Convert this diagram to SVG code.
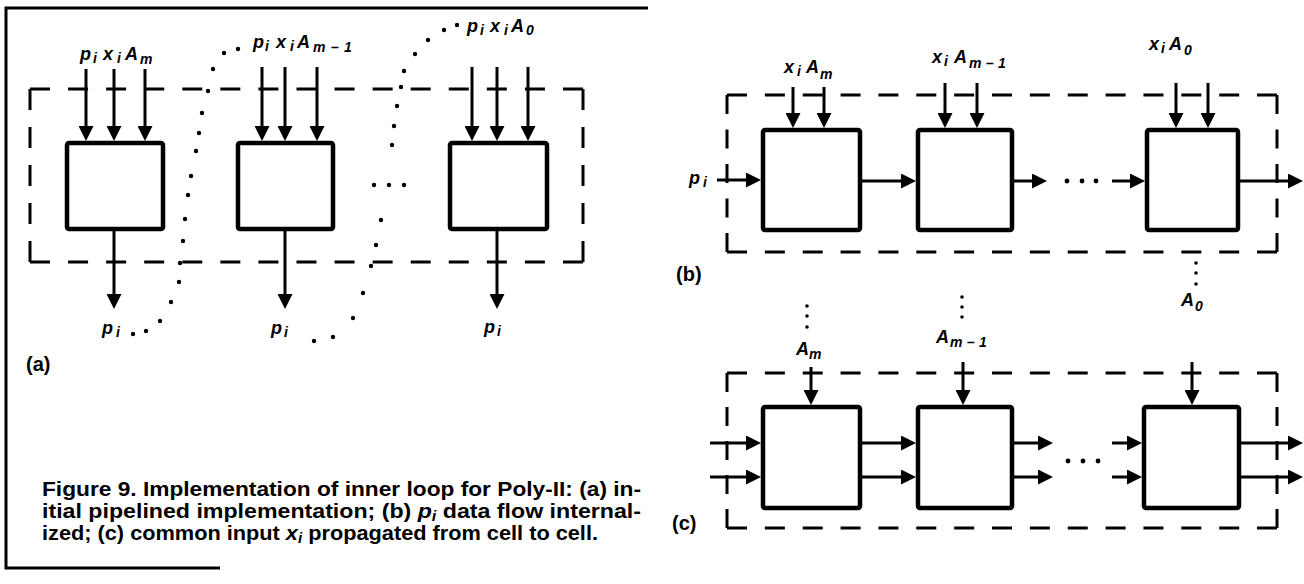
<svg xmlns="http://www.w3.org/2000/svg" width="1304" height="584" viewBox="0 0 1304 584">
<defs>
<marker id="ah" viewBox="0 0 15 15" markerWidth="15" markerHeight="15" refX="7" refY="7.5" orient="auto" markerUnits="userSpaceOnUse"><path d="M0,0 L15,7.5 L0,15 z" fill="#000"/></marker>
<style>
.frame{stroke:#000;stroke-width:3;fill:none}
.dash{stroke:#000;stroke-width:3;fill:none}
.box{fill:#fff;stroke:#000;stroke-width:4.5}
.arr{stroke:#000;stroke-width:3;fill:none;marker-end:url(#ah)}
.dot{fill:#000}
.lbl{font-family:"Liberation Sans",Arial,sans-serif;font-weight:bold;font-style:italic;font-size:18px;fill:#000}
.sub{font-size:14px}
.tag{font-family:"Liberation Sans",Arial,sans-serif;font-weight:bold;font-size:20px;fill:#000}
.cap{font-family:"Liberation Sans",Arial,sans-serif;font-weight:bold;font-size:20px;fill:#000}
</style>
</defs>
<rect width="1304" height="584" fill="#fff"/>
<path class="frame" d="M648,8 L6,8 L6,568 L220,568"/>

<!-- Panel (a) -->
<g id="a-boundary">
<line class="dash" x1="30" y1="89" x2="583" y2="89" stroke-dasharray="20 18.07"/>
<line class="dash" x1="30" y1="262" x2="583" y2="262" stroke-dasharray="20 18.07"/>
<line class="dash" x1="30" y1="89" x2="30" y2="262" stroke-dasharray="21 17"/>
<line class="dash" x1="583" y1="89" x2="583" y2="262" stroke-dasharray="21 17"/>
</g>
<g id="a-cell1"><rect class="box" x="67" y="143" width="96" height="86" rx="2"/></g>
<g id="a-cell2"><rect class="box" x="238" y="143" width="95" height="86" rx="2"/></g>
<g id="a-cell3"><rect class="box" x="450" y="143" width="97" height="86" rx="2"/></g>
<g id="a-connectors">
<line class="arr" x1="86" y1="69" x2="86" y2="133"/>
<line class="arr" x1="114" y1="69" x2="114" y2="133"/>
<line class="arr" x1="145" y1="69" x2="145" y2="133"/>
<line class="arr" x1="262" y1="67" x2="262" y2="133"/>
<line class="arr" x1="285" y1="67" x2="285" y2="133"/>
<line class="arr" x1="317" y1="67" x2="317" y2="133"/>
<line class="arr" x1="472" y1="67" x2="472" y2="133"/>
<line class="arr" x1="497" y1="67" x2="497" y2="133"/>
<line class="arr" x1="528" y1="67" x2="528" y2="133"/>
<line class="arr" x1="114" y1="229" x2="114" y2="301"/>
<line class="arr" x1="285" y1="229" x2="285" y2="301"/>
<line class="arr" x1="497" y1="229" x2="497" y2="301"/>
</g>
<g id="a-dots" class="dot">
<circle cx="133" cy="334" r="2.2"/><circle cx="146" cy="331" r="2.2"/><circle cx="160" cy="321" r="2.2"/><circle cx="171" cy="302" r="2.2"/><circle cx="179" cy="282" r="2.2"/><circle cx="180" cy="263" r="2.2"/><circle cx="183" cy="241" r="2.2"/><circle cx="185" cy="219" r="2.2"/><circle cx="188" cy="195" r="2.2"/><circle cx="191" cy="176" r="2.2"/><circle cx="196" cy="151" r="2.2"/><circle cx="199" cy="133" r="2.2"/><circle cx="202" cy="113" r="2.2"/><circle cx="208" cy="91" r="2.2"/><circle cx="213" cy="69" r="2.2"/><circle cx="224" cy="53" r="2.2"/><circle cx="238" cy="49" r="2.2"/>
<circle cx="314" cy="341" r="2.2"/><circle cx="333" cy="337" r="2.2"/><circle cx="353" cy="318" r="2.2"/><circle cx="363" cy="293" r="2.2"/><circle cx="371" cy="266" r="2.2"/><circle cx="376" cy="245" r="2.2"/><circle cx="381" cy="220" r="2.2"/><circle cx="389" cy="185" r="2.2"/><circle cx="392" cy="145" r="2.2"/><circle cx="394" cy="126" r="2.2"/><circle cx="397" cy="106" r="2.2"/><circle cx="401" cy="87" r="2.2"/><circle cx="404" cy="71" r="2.2"/><circle cx="415" cy="54" r="2.2"/><circle cx="428" cy="40" r="2.2"/><circle cx="444" cy="30" r="2.2"/><circle cx="457" cy="25" r="2.2"/>
<circle cx="374" cy="185" r="2.2"/><circle cx="404" cy="185" r="2.2"/>
</g>
<g id="a-labels">
<text class="lbl" y="60"><tspan x="80">p</tspan><tspan class="sub" x="93" y="63">i</tspan><tspan x="103" y="60">x</tspan><tspan class="sub" x="117" y="63">i</tspan><tspan x="125" y="60">A</tspan><tspan class="sub" x="140" y="64">m</tspan></text>
<text class="lbl" y="48"><tspan x="253">p</tspan><tspan class="sub" x="265" y="51">i</tspan><tspan x="276" y="48">x</tspan><tspan class="sub" x="290" y="51">i</tspan><tspan x="297" y="48">A</tspan><tspan class="sub" x="313" y="52">m</tspan><tspan class="sub" x="331" y="52">–</tspan><tspan class="sub" x="344" y="52">1</tspan></text>
<text class="lbl" y="32"><tspan x="467">p</tspan><tspan class="sub" x="480" y="35">i</tspan><tspan x="490" y="32">x</tspan><tspan class="sub" x="504" y="35">i</tspan><tspan x="511" y="32">A</tspan><tspan class="sub" x="526" y="35">0</tspan></text>
<text class="lbl" y="334"><tspan x="102">p</tspan><tspan class="sub" x="116" y="337">i</tspan></text>
<text class="lbl" y="334"><tspan x="271">p</tspan><tspan class="sub" x="284" y="337">i</tspan></text>
<text class="lbl" y="333"><tspan x="484">p</tspan><tspan class="sub" x="497" y="336">i</tspan></text>
<text class="tag" x="26" y="371">(a)</text>
</g>

<!-- Panel (b) -->
<g id="b-boundary">
<line class="dash" x1="727" y1="95" x2="1277" y2="95" stroke-dasharray="20 17.86"/>
<line class="dash" x1="727" y1="252" x2="1277" y2="252" stroke-dasharray="20 17.86"/>
<line class="dash" x1="727" y1="95" x2="727" y2="252" stroke-dasharray="19 15.5"/>
<line class="dash" x1="1277" y1="95" x2="1277" y2="252" stroke-dasharray="19 15.5"/>
</g>
<g id="b-cell1"><rect class="box" x="763" y="130" width="97" height="100" rx="2"/></g>
<g id="b-cell2"><rect class="box" x="918" y="130" width="94" height="100" rx="2"/></g>
<g id="b-cell3"><rect class="box" x="1147" y="130" width="91" height="100" rx="2"/></g>
<g id="b-connectors">
<line class="arr" x1="793" y1="87" x2="793" y2="120"/>
<line class="arr" x1="824" y1="87" x2="824" y2="120"/>
<line class="arr" x1="945" y1="83" x2="945" y2="120"/>
<line class="arr" x1="977" y1="83" x2="977" y2="120"/>
<line class="arr" x1="1176" y1="83" x2="1176" y2="120"/>
<line class="arr" x1="1208" y1="83" x2="1208" y2="120"/>
<line class="arr" x1="717" y1="180" x2="753" y2="180"/>
<line class="arr" x1="862" y1="181" x2="908" y2="181"/>
<line class="arr" x1="1014" y1="181" x2="1039" y2="181"/>
<line class="arr" x1="1112" y1="181" x2="1137" y2="181"/>
<line class="arr" x1="1240" y1="181" x2="1295" y2="181"/>
</g>
<g id="b-dots" class="dot">
<circle cx="1067" cy="181" r="2.4"/><circle cx="1082" cy="181" r="2.4"/><circle cx="1096" cy="181" r="2.4"/>
<circle cx="1196" cy="263" r="1.8"/><circle cx="1196" cy="273" r="1.8"/><circle cx="1196" cy="284" r="1.8"/>
</g>
<g id="b-labels">
<text class="lbl" y="73"><tspan x="784">x</tspan><tspan class="sub" x="797" y="76">i</tspan><tspan x="806" y="73">A</tspan><tspan class="sub" x="820" y="79">m</tspan></text>
<text class="lbl" y="63"><tspan x="932">x</tspan><tspan class="sub" x="944" y="66">i</tspan><tspan x="954" y="63">A</tspan><tspan class="sub" x="969" y="68">m</tspan><tspan class="sub" x="986" y="68">–</tspan><tspan class="sub" x="998" y="68">1</tspan></text>
<text class="lbl" y="50"><tspan x="1149">x</tspan><tspan class="sub" x="1161" y="53">i</tspan><tspan x="1169" y="50">A</tspan><tspan class="sub" x="1184" y="55">0</tspan></text>
<text class="lbl" y="184"><tspan x="689">p</tspan><tspan class="sub" x="703" y="187">i</tspan></text>
<text class="lbl" y="306"><tspan x="1181">A</tspan><tspan class="sub" x="1195" y="311">0</tspan></text>
<text class="tag" x="676" y="281">(b)</text>
</g>

<!-- Panel (c) -->
<g id="c-boundary">
<line class="dash" x1="727" y1="373" x2="1277" y2="373" stroke-dasharray="20 17.86"/>
<line class="dash" x1="727" y1="528" x2="1277" y2="528" stroke-dasharray="20 17.86"/>
<line class="dash" x1="727" y1="373" x2="727" y2="528" stroke-dasharray="19 15"/>
<line class="dash" x1="1277" y1="373" x2="1277" y2="528" stroke-dasharray="19 15"/>
</g>
<g id="c-cell1"><rect class="box" x="763" y="407" width="97" height="101" rx="2"/></g>
<g id="c-cell2"><rect class="box" x="918" y="407" width="94" height="101" rx="2"/></g>
<g id="c-cell3"><rect class="box" x="1144" y="407" width="95" height="101" rx="2"/></g>
<g id="c-connectors">
<line class="arr" x1="811" y1="367" x2="811" y2="397"/>
<line class="arr" x1="963" y1="362" x2="963" y2="397"/>
<line class="arr" x1="1192" y1="362" x2="1192" y2="397"/>
<line class="arr" x1="710" y1="443" x2="753" y2="443"/>
<line class="arr" x1="710" y1="477" x2="753" y2="477"/>
<line class="arr" x1="862" y1="443" x2="908" y2="443"/>
<line class="arr" x1="862" y1="477" x2="908" y2="477"/>
<line class="arr" x1="1014" y1="443" x2="1045" y2="443"/>
<line class="arr" x1="1014" y1="477" x2="1045" y2="477"/>
<line class="arr" x1="1112" y1="443" x2="1134" y2="443"/>
<line class="arr" x1="1112" y1="477" x2="1134" y2="477"/>
<line class="arr" x1="1241" y1="443" x2="1295" y2="443"/>
<line class="arr" x1="1241" y1="477" x2="1295" y2="477"/>
</g>
<g id="c-dots" class="dot">
<circle cx="1068" cy="461" r="2.4"/><circle cx="1083" cy="461" r="2.4"/><circle cx="1098" cy="461" r="2.4"/>
<circle cx="807" cy="306" r="1.8"/><circle cx="807" cy="316" r="1.8"/><circle cx="807" cy="327" r="1.8"/>
<circle cx="962" cy="297" r="1.8"/><circle cx="962" cy="307" r="1.8"/><circle cx="962" cy="317" r="1.8"/>
</g>
<g id="c-labels">
<text class="lbl" y="355"><tspan x="796">A</tspan><tspan class="sub" x="809" y="359">m</tspan></text>
<text class="lbl" y="343"><tspan x="936">A</tspan><tspan class="sub" x="950" y="347">m</tspan><tspan class="sub" x="967" y="347">–</tspan><tspan class="sub" x="979" y="347">1</tspan></text>
<text class="tag" x="672" y="530">(c)</text>
</g>

<g id="caption">
<text class="cap" x="42" y="496" textLength="599" lengthAdjust="spacingAndGlyphs">Figure 9. Implementation of inner loop for Poly-II: (a) in-</text>
<text class="cap" x="42" y="518" textLength="599" lengthAdjust="spacingAndGlyphs">itial pipelined implementation; (b) <tspan font-style="italic">p</tspan><tspan font-size="14" font-style="italic" dy="3">i</tspan><tspan dy="-3"> data flow internal-</tspan></text>
<text class="cap" x="42" y="540" textLength="556" lengthAdjust="spacingAndGlyphs">ized; (c) common input <tspan font-style="italic">x</tspan><tspan font-size="14" font-style="italic" dy="3">i</tspan><tspan dy="-3"> propagated from cell to cell.</tspan></text>
</g>
</svg>
